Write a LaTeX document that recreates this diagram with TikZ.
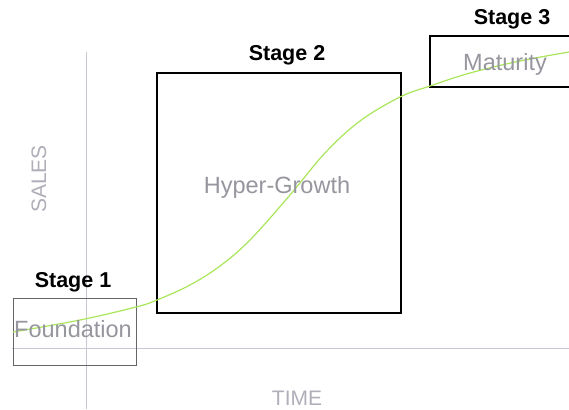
\documentclass[tikz,border=0pt]{standalone}
\usepackage{fontspec}
\setmainfont{Liberation Sans}
\begin{document}
\begin{tikzpicture}[x=1pt,y=-1pt,
  stagelabel/.style={font=\fontsize{21.5}{23}\selectfont\bfseries, text=black, anchor=base, inner sep=0pt},
  phaselabel/.style={font=\fontsize{23.5}{25}\selectfont, text={rgb,255:red,150;green,150;blue,158}, anchor=base, inner sep=0pt},
  axislabel/.style={font=\fontsize{21}{23}\selectfont, text={rgb,255:red,175;green,175;blue,185}, anchor=base, inner sep=0pt},
  axisline/.style={draw={rgb,255:red,200;green,200;blue,210}, line width=1pt},
  bigbox/.style={draw=black, line width=2pt, rectangle, inner sep=0pt},
  smallbox/.style={draw={rgb,255:red,100;green,100;blue,105}, line width=1pt, rectangle, inner sep=0pt},
  growth/.style={draw={rgb,255:red,170;green,230;blue,90}, line width=1.2pt}
]
\clip (0,0) rectangle (569,409);
\fill[white] (0,0) rectangle (569,409);
% axes
\coordinate (vtop) at (86,52);
\coordinate (vbot) at (86,409);
\coordinate (hleft) at (12,348);
\coordinate (hright) at (569,348);
\draw[axisline] (vtop) -- (vbot);
\draw[axisline] (hleft) -- (hright);
% boxes
\node[smallbox, minimum width=123pt, minimum height=67pt] (s1) at (74.5,331.5) {};
\node[bigbox, minimum width=244pt, minimum height=240pt] (s2) at (279,193) {};
\node[bigbox, minimum width=170pt, minimum height=51pt] (s3) at (515,61.5) {};
% curve
\draw[growth] plot[smooth, tension=0.6] coordinates {(13,332) (80,320) (136,307) (157,300) (190,285) (220,266) (250,240) (290,195) (325,153) (360,121) (400,97) (430,86) (470,73) (520,61) (569,52)};
% labels
\node[stagelabel] (l1) at (73,287) {Stage 1};
\node[stagelabel] (l2) at (287,61) {Stage 2};
\node[stagelabel] (l3) at (512,25) {Stage 3};
\node[phaselabel] (p1) at (73,337) {Foundation};
\node[phaselabel] (p2) at (277,193) {Hyper-Growth};
\node[phaselabel] (p3) at (505,71) {Maturity};
\node[axislabel] (xl) at (297,405) {TIME};
\node[axislabel, rotate=90] (yl) at (46,179) {SALES};
\end{tikzpicture}
\end{document}
